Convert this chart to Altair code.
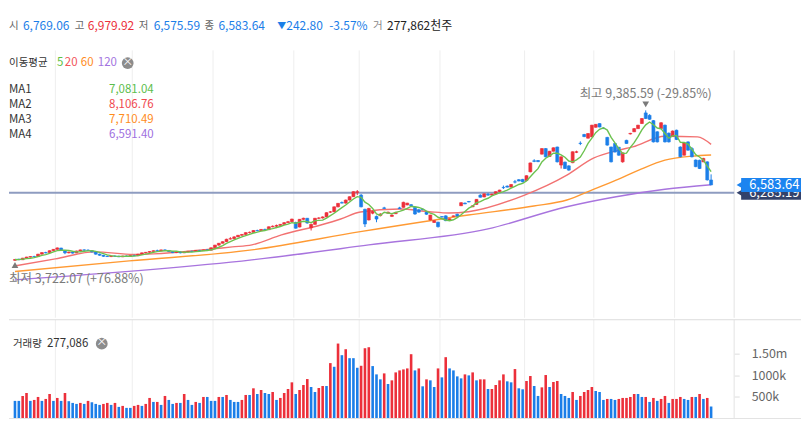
import altair as alt
import pandas as pd

FONT = "Noto Sans CJK KR"
RED = "#ec2f3a"
BLUE = "#1b7ee8"

# ---------------- data ----------------
open_ = [3750,3790,3770,3830,3870,3890,3890,3980,4040,4040,
4110,4160,4210,4120,4030,4060,4030,4100,4140,4130,
4110,4060,3980,3940,3900,3890,3910,3900,3880,3910,
3895,3930,3920,3980,4030,4050,4080,4110,4100,4140,
4120,4080,4040,4060,4030,4060,4090,4080,4120,4110,
4140,4130,4220,4320,4390,4450,4550,4560,4630,4690,
4720,4790,4800,4870,4860,4910,4900,5010,5030,5060,
5100,5165,5200,5170,5000,5290,5330,4970,5100,5330,
5340,5380,5560,5570,5760,5920,5900,6015,6140,6300,
6200,5665,5265,5520,5400,5430,5720,5520,5400,5500,
5720,5740,5830,5840,5740,5650,5670,5560,5265,5170,
5180,5390,5420,5260,5400,5480,5800,5900,5960,5760,
5850,6200,6130,6230,6200,6250,6330,6490,6540,6500,
6700,6780,6790,6750,7075,7490,7500,7740,7950,7650,
7850,8010,7330,7440,7300,7420,7810,8150,8480,8340,
8390,8750,8890,8720,8370,8010,8140,8000,7450,8260,
8500,8580,8700,8890,9290,9200,9000,8580,8700,8830,
8530,8410,8640,8010,7700,8200,7950,7520,7510,7450,
7450,6769.06]

high_ = [3800,3810,3840,3880,3900,3920,3990,4050,4070,4120,
4170,4230,4220,4130,4070,4080,4110,4150,4160,4160,
4120,4070,4000,3950,3930,3920,3930,3920,3920,3930,
3940,3960,3990,4040,4060,4090,4120,4150,4150,4160,
4130,4090,4070,4080,4070,4100,4110,4130,4140,4150,
4170,4230,4330,4400,4460,4560,4620,4650,4700,4740,
4800,4830,4880,4900,4920,4940,5020,5060,5090,5110,
5180,5230,5310,5200,5300,5350,5340,5120,5340,5370,
5400,5550,5600,5770,5900,5960,6030,6150,6340,6390,
6240,5690,5720,5620,5430,5520,5760,5580,5470,5570,
5760,5950,5910,5860,5750,5670,5690,5580,5460,5250,
5200,5410,5440,5320,5430,5500,5930,5920,5980,5810,
6050,6230,6260,6280,6250,6340,6400,6560,6560,6610,
6770,6800,6810,6940,7420,7550,7520,7960,7970,7860,
7990,8020,7650,7460,7320,7840,7870,8220,8500,8530,
8840,8870,8900,8740,8390,8020,8160,8010,7800,8280,
8540,8720,8840,9090,9385.59,9240,9020,8600,8940,8850,
8550,8630,8660,8030,8180,8220,8010,7540,7530,7600,
7470,6979.92]

low_ = [3722.07,3760,3760,3820,3850,3870,3880,3970,4010,4030,
4100,4150,4100,3980,4010,4000,4020,4090,4110,4100,
4050,3960,3920,3880,3880,3870,3880,3870,3870,3880,
3890,3910,3910,3970,4010,4030,4060,4090,4090,4100,
4060,4020,4020,4010,4020,4050,4060,4070,4100,4100,
4120,4120,4210,4300,4380,4440,4530,4550,4620,4670,
4700,4760,4790,4840,4850,4880,4890,4990,4960,5050,
5090,5150,5190,4940,4990,5270,5130,4870,5090,5300,
5320,5370,5530,5560,5740,5890,5880,6000,6130,6200,
5740,5000,5250,5480,5180,5400,5680,5500,5390,5490,
5680,5730,5820,5780,5460,5540,5630,5460,5250,5160,
4980,5360,5220,5250,5390,5400,5790,5860,5930,5750,
5840,6110,6120,6180,6190,6240,6320,6430,6490,6490,
6640,6720,6680,6740,7060,7440,7440,7730,7620,7640,
7840,7430,7200,7180,7120,7400,7780,8080,8380,8330,
8380,8740,8750,8690,8060,7430,7800,7680,7420,8130,
8480,8570,8690,8880,9060,9030,8180,8180,8690,8180,
8180,8400,8270,7620,7690,7870,7620,7250,7180,7440,
6750,6575.59]

close_ = [3780,3770,3830,3870,3890,3880,3980,4040,4030,4110,
4160,4215,4120,4030,4060,4020,4100,4140,4130,4120,
4060,3980,3940,3900,3890,3910,3900,3880,3910,3895,
3930,3920,3980,4030,4050,4080,4110,4100,4140,4120,
4080,4040,4060,4030,4060,4090,4080,4120,4110,4140,
4130,4220,4320,4390,4450,4540,4560,4630,4690,4720,
4790,4800,4870,4860,4910,4900,5010,5030,5060,5100,
5165,5200,5300,4955,5290,5330,5150,5100,5330,5340,
5380,5540,5570,5760,5890,5900,6015,6140,6330,6330,
5760,5115,5700,5590,5300,5490,5700,5560,5450,5550,
5690,5930,5900,5800,5490,5560,5650,5480,5450,5240,
5015,5375,5240,5310,5420,5410,5915,5870,5940,5800,
6040,6120,6250,6200,6240,6330,6390,6480,6500,6600,
6690,6730,6700,6930,7410,7470,7460,7950,7640,7850,
7980,7450,7640,7200,7140,7830,7830,8140,8400,8515,
8830,8860,8760,8700,8080,7450,7820,7700,7790,8140,
8520,8700,8830,9080,9080,9050,8200,8200,8920,8200,
8200,8610,8290,7640,8160,7890,7640,7270,7200,7580,
6770,6583.64]

# volume in thousands
volume_k = [407,407,521,590,407,429,498,407,452,567,
407,475,407,590,400,360,337,360,337,407,
375,337,314,337,360,314,360,268,291,245,
245,291,314,291,337,475,383,383,314,521,
429,337,360,360,567,429,314,383,360,498,
498,407,407,498,498,544,429,383,383,429,
544,544,698,567,659,590,567,613,429,475,
590,682,836,567,659,774,912,728,613,705,
751,751,1281,1196,1733,1464,1602,1395,1395,1173,
1219,1625,1648,1212,1020,905,1043,797,882,1066,
1112,1135,1158,1487,1112,1158,744,905,882,728,
1158,951,1418,1158,1112,974,928,1020,997,1066,
882,905,905,682,682,774,882,1020,859,836,
1143,698,675,867,982,751,521,720,1005,728,
844,867,567,521,475,613,429,521,613,659,
728,636,613,429,452,452,429,452,475,475,
498,567,567,498,498,383,475,407,452,521,
360,452,452,498,452,429,498,498,567,452,
475,277]

vol_dir = list("BBRRBRRBRRBRBRBBBRBRBBBRRBRBRBBRRBRRBRBRBBRBRBBRBRBBBRBRBBBR"
               "RBRBRBBRBRRRRBRRRBBRRBRBRBRBBBRRRBBBRBRRRRRRBRBRBBRBRBBBBRBRB"
               "RRBRRRRBBRBBRRBBRRBRRBBBRBRRRRBBBRBBRRRRRBBRBRBRRBRRRBBRBRBRB")

# moving averages 20 / 60 / 120 read at sample candles
ma20_i = [1, 11.5, 21.7, 31.9, 37.1, 49.8, 57.5, 62.6, 70.3, 80.5, 85.7, 90.8,
          101, 108.7, 113.8, 118.9, 133.5, 144.5, 151.4, 158, 161.6, 170, 178.5, 182]
ma20_v = [3540, 3803, 4065, 3971, 3990, 4140, 4253, 4328, 4703, 5078, 5303, 5565,
          5678, 5577, 5528, 5577, 6203, 6953, 7590, 7890, 8014, 8415, 8389, 8106.76]
ma60_i = [1, 30.7, 62.6, 90.8, 118.9, 135.9, 144.5, 151.4, 157.3, 163.2, 170, 176.9, 182]
ma60_v = [3327, 3727, 4140, 4826, 5453, 5790, 6015, 6415, 6765, 7140, 7515, 7665, 7710.49]
ma120_i = [1, 62.6, 93, 124, 144.5, 157.3, 170, 182]
ma120_v = [3015, 3765, 4328, 4930, 5764, 6140, 6420, 6591.40]

grid_i = [11.5, 31.5, 52.5, 73.5, 90.5, 111.5, 133.5, 151.5, 172.5]
ref_line = 6285.19
last_close = 6583.64
hi_val, hi_i = 9385.59, 165
lo_val, lo_i = 3722.07, 1

# ---------------- frames ----------------
n = len(close_)
idx = list(range(1, n + 1))
candles = pd.DataFrame({"i": idx, "open": open_, "high": high_, "low": low_, "close": close_})
candles["dir"] = ["up" if c >= o else "down" for o, c in zip(open_, close_)]
vol_df = pd.DataFrame({"i": idx, "vol": volume_k,
                       "dir": ["up" if d == "R" else "down" for d in vol_dir]})
grid_df = pd.DataFrame({"i": grid_i})
dummy = pd.DataFrame({"d": [0]})

W, H1, H2 = 727, 310, 99
xs = alt.Scale(domain=[0.744, 186.7], nice=False, zero=False)
ys = alt.Scale(domain=[1590, 13215], nice=False, zero=False)
col = alt.Scale(domain=["up", "down"], range=[RED, BLUE])
X = alt.X("i:Q", scale=xs, axis=None)

GREEN_L, RED_L, ORANGE_L, PURPLE_L = "#6cc24f", "#f27272", "#ff9a33", "#a874de"


def label(txt, x, y, color, size=12, align="left"):
    return alt.Chart(dummy).mark_text(
        text=txt, align=align, baseline="middle", color=color,
        fontSize=size, font=FONT).encode(x=alt.value(x), y=alt.value(y))


def close_icon(x, y):
    return alt.Chart(dummy).mark_circle(size=140, color="#8c8c8c", opacity=1).encode(
        x=alt.value(x), y=alt.value(y)) + label("×", x, y - 0.5, "white", 11, "center")


yaxis = alt.Axis(orient="right", values=list(range(2000, 12000, 1000)), format=",.2f",
                 grid=False, domain=False, tickColor="#cccccc", tickSize=5, labelPadding=12,
                 labelColor="#666666", labelFontSize=12.5, labelFont=FONT, title=None)

grid = alt.Chart(grid_df).mark_rule(color="#eeeeee").encode(
    x=X, y=alt.value(42), y2=alt.value(H1))
edge = alt.Chart(dummy).mark_rule(color="#e3e3e3").encode(
    x=alt.value(W), y=alt.value(42), y2=alt.value(H1))
hline = alt.Chart(dummy).mark_rule(color="#8e9cc0", strokeWidth=2).encode(
    y=alt.Y("v:Q", scale=ys, axis=yaxis), x=alt.value(0), x2=alt.value(W)
).transform_calculate(v=str(ref_line))


def ma_line(i_vals, v_vals, color):
    df = pd.DataFrame({"i": i_vals, "v": v_vals})
    return alt.Chart(df).mark_line(color=color, strokeWidth=1.4, interpolate="monotone").encode(
        x=X, y=alt.Y("v:Q", scale=ys, axis=None))


ma120 = ma_line(ma120_i, ma120_v, PURPLE_L)
ma60 = ma_line(ma60_i, ma60_v, ORANGE_L)
ma20 = ma_line(ma20_i, ma20_v, RED_L)

wicks = alt.Chart(candles).mark_rule(strokeWidth=1).encode(
    x=X, y=alt.Y("low:Q", scale=ys, axis=None), y2="high:Q",
    color=alt.Color("dir:N", scale=col, legend=None))
bodies = alt.Chart(candles).mark_bar(size=3, strokeWidth=0.6).encode(
    x=X, y=alt.Y("open:Q", scale=ys, axis=None), y2="close:Q",
    color=alt.Color("dir:N", scale=col, legend=None),
    stroke=alt.Stroke("dir:N", scale=col, legend=None))
ma5 = alt.Chart(candles).transform_window(
    ma5="mean(close)", frame=[-4, 0], sort=[{"field": "i"}]
).mark_line(color=GREEN_L, strokeWidth=1.4).encode(x=X, y=alt.Y("ma5:Q", scale=ys, axis=None))

hi_df = pd.DataFrame({"i": [hi_i], "v": [hi_val]})
lo_df = pd.DataFrame({"i": [lo_i], "v": [lo_val]})
hi_txt = alt.Chart(hi_df).mark_text(
    text="최고  9,385.59 (-29.85%)", dy=-16, align="center", baseline="middle",
    color="#7a7a7a", fontSize=12.5, font=FONT).encode(x=X, y=alt.Y("v:Q", scale=ys, axis=None))
hi_tri = alt.Chart(hi_df).mark_point(shape="triangle-down", filled=True, size=45, color="#7a7a7a",
                                     opacity=1, yOffset=-6).encode(x=X, y=alt.Y("v:Q", scale=ys, axis=None))
lo_txt = alt.Chart(lo_df).mark_text(
    text="최저  3,722.07 (+76.88%)", dy=18, align="left", baseline="middle",
    color="#7a7a7a", fontSize=12.5, font=FONT).encode(x=alt.value(0), y=alt.Y("v:Q", scale=ys, axis=None))
lo_tri = alt.Chart(lo_df).mark_point(shape="triangle-up", filled=True, size=45, color="#7a7a7a",
                                     opacity=1, yOffset=4, clip=True).encode(x=X, y=alt.Y("v:Q", scale=ys, axis=None))


def tag(value, fill):
    df = pd.DataFrame({"v": [value]})
    base = alt.Chart(df)
    Y = alt.Y("v:Q", scale=ys, axis=None)
    box = base.mark_rect(color=fill, yOffset=-7, y2Offset=7).encode(
        x=alt.value(734), x2=alt.value(794), y=Y, y2="v:Q")
    arrow = base.mark_point(shape="triangle-left", filled=True, size=70, color=fill, opacity=1).encode(
        x=alt.value(733), y=Y)
    txt = base.mark_text(align="left", baseline="middle", color="white", fontSize=13, font=FONT).encode(
        x=alt.value(742), y=Y, text=alt.Text("v:Q", format=",.2f"))
    return box + arrow + txt


tags = tag(ref_line, "#33426b") + tag(last_close, "#1c84f0")

# header texts
HY = 17.7
HS = 12
KS = 10.5
header = (label("시", 0, HY, "#666666", KS) + label("6,769.06", 14, HY, BLUE, HS) +
          label("고", 66, HY, "#666666", KS) + label("6,979.92", 79, HY, RED, HS) +
          label("저", 130, HY, "#666666", KS) + label("6,575.59", 145, HY, BLUE, HS) +
          label("종", 196, HY, "#666666", KS) + label("6,583.64", 210, HY, BLUE, HS) +
          label("▼", 269, HY, BLUE, 9) + label("242.80", 278, HY, BLUE, HS) +
          label("-3.57%", 321, HY, BLUE, HS) +
          label("거", 365, HY, "#888888", KS) + label("277,862천주", 379, HY, "#222222", HS))

LS = 11.5
legend = (label("이동평균", 0, 54.7, "#333333", 10.5) + label("5", 48, 54.7, "#5fbf46", LS) +
          label("20", 56, 54.7, "#f2545a", LS) + label("60", 72, 54.7, "#ff8c24", LS) +
          label("120", 89, 54.7, "#a274e0", LS) + close_icon(119, 54.7) +
          label("MA1", 0, 81.7, "#333333", LS) + label("7,081.04", 145, 81.7, "#5bbd4c", LS, "right") +
          label("MA2", 0, 96.7, "#333333", LS) + label("8,106.76", 145, 96.7, "#f0484e", LS, "right") +
          label("MA3", 0, 111.7, "#333333", LS) + label("7,710.49", 145, 111.7, "#ff8c1c", LS, "right") +
          label("MA4", 0, 126.7, "#333333", LS) + label("6,591.40", 145, 126.7, "#9e6fe0", LS, "right"))

NOSTROKE = alt.ViewConfig(stroke="transparent", strokeWidth=0)

main = alt.layer(grid, edge, hline, ma120, ma60, ma20, wicks, bodies, ma5,
                 hi_tri, hi_txt, lo_tri, lo_txt, tags, header, legend
                 ).properties(width=W, height=H1, view=NOSTROKE)

# ---------------- volume panel ----------------
vaxis = alt.Axis(orient="right", values=[500, 1000, 1500],
                 labelExpr="datum.value >= 1500 ? '1.50m' : datum.value + 'k'",
                 grid=False, domain=False, tickColor="#dddddd", tickSize=5, labelPadding=12,
                 labelColor="#666666", labelFontSize=12.5, labelFont=FONT, title=None)
vgrid = alt.Chart(grid_df).mark_rule(color="#eeeeee").encode(x=X, y=alt.value(0), y2=alt.value(H2))
vedge = alt.Chart(dummy).mark_rule(color="#e3e3e3").encode(x=alt.value(W), y=alt.value(0), y2=alt.value(H2))
vtop = alt.Chart(dummy).mark_rule(color="#dddddd").encode(x=alt.value(0), x2=alt.value(794), y=alt.value(0))
vbot = alt.Chart(dummy).mark_rule(color="#e3e3e3").encode(x=alt.value(0), x2=alt.value(794), y=alt.value(H2))
vbars = alt.Chart(vol_df).mark_bar(size=2.6).encode(
    x=X, y=alt.Y("vol:Q", scale=alt.Scale(domain=[0, 2284], nice=False), axis=vaxis),
    color=alt.Color("dir:N", scale=col, legend=None))
vlabel = (label("거래량", 4, 24, "#333333", 10.5) + label("277,086", 38, 24, "#333333", 11.5) +
          close_icon(93, 24))

vol = alt.layer(vgrid, vedge, vtop, vbars, vbot, vlabel).properties(width=W, height=H2, view=NOSTROKE)

chart = alt.vconcat(main, vol, spacing=0).properties(padding=0).configure_view(
    stroke="transparent", strokeWidth=0).configure(font=FONT)

chart.save("out.html", embed_options={"renderer": "svg", "actions": False})
